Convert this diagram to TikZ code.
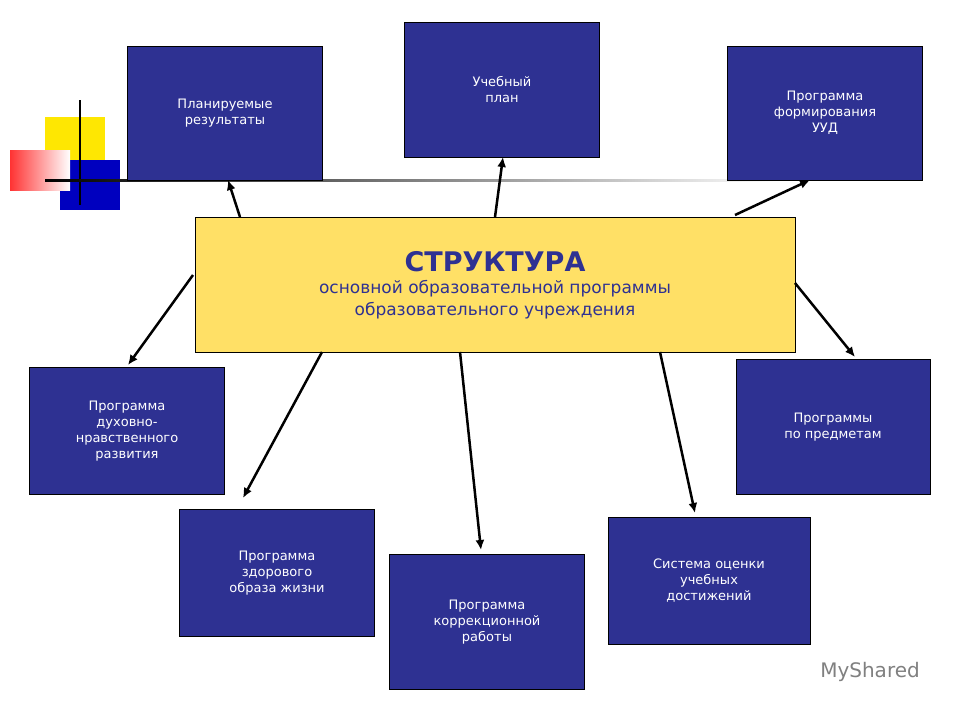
\documentclass[tikz,border=0pt]{standalone}
\usepackage{fontspec}
\setmainfont{DejaVu Sans}
\usetikzlibrary{arrows.meta}
\definecolor{bx}{HTML}{2E3192}
\definecolor{yl}{HTML}{FFE066}
\begin{document}
\begin{tikzpicture}[x=1pt,y=-1pt,
  box/.style={draw=black,fill=bx,text=white,font=\fontsize{13}{16}\selectfont,align=center,inner sep=0pt},
  arr/.style={line width=2.5pt,-{Latex[length=10pt,width=9pt]}}]
\useasboundingbox (0,0) rectangle (960,720);
\fill[white] (0,0) rectangle (960,720);
% decoration
\fill[yellow!90!orange] (45,117) rectangle (105,165);
\fill[blue!75!black] (60,160) rectangle (120,210);
\shade[left color=red!80,right color=white] (10,150) rectangle (70,190);
\draw[line width=1.2pt] (80,100) -- (80,205);
\shade[left color=black,right color=white] (45,179) rectangle (780,181);
% boxes
\path (225,113) node[box,minimum width=195pt,minimum height=134pt] (pr) {Планируемые\\результаты};
\path (502,90) node[box,minimum width=195pt,minimum height=135pt] (up) {Учебный\\план};
\path (825,113) node[box,minimum width=195pt,minimum height=134pt] (uud) {Программа\\формирования\\УУД};
\path (495,285) node[draw=black,fill=yl,text=bx,minimum width=600pt,minimum height=135pt,align=center,inner sep=0pt,font=\fontsize{17}{22}\selectfont] (c)
 {\fontsize{27}{32}\selectfont\bfseries СТРУКТУРА\\
  основной образовательной программы\\образовательного учреждения};
\path (127,431) node[box,minimum width=195pt,minimum height=127pt] (dn) {Программа\\духовно-\\нравственного\\развития};
\path (833,427) node[box,minimum width=194pt,minimum height=135pt] (pp) {Программы\\по предметам};
\path (277,573) node[box,minimum width=195pt,minimum height=127pt] (zo) {Программа\\здорового\\образа жизни};
\path (487,622) node[box,minimum width=195pt,minimum height=135pt] (kr) {Программа\\коррекционной\\работы};
\path (709,581) node[box,minimum width=202pt,minimum height=127pt] (so) {Система оценки\\учебных\\достижений};
% arrows
\coordinate (a1) at (240,217); \coordinate (b1) at (228,180); \draw[arr] (a1) -- (b1);
\coordinate (a2) at (495,217); \coordinate (b2) at (503,157); \draw[arr] (a2) -- (b2);
\coordinate (a3) at (735,215); \coordinate (b3) at (810,180); \draw[arr] (a3) -- (b3);
\coordinate (a4) at (193,275); \coordinate (b4) at (128,365); \draw[arr] (a4) -- (b4);
\coordinate (a5) at (322,352); \coordinate (b5) at (243,498); \draw[arr] (a5) -- (b5);
\coordinate (a6) at (460,352); \coordinate (b6) at (481,550); \draw[arr] (a6) -- (b6);
\coordinate (a7) at (660,352); \coordinate (b7) at (695,513); \draw[arr] (a7) -- (b7);
\coordinate (a8) at (795,283); \coordinate (b8) at (855,357); \draw[arr] (a8) -- (b8);
\node[text=gray,font=\fontsize{20}{24}\selectfont] (ms) at (870,672) {MyShared};
\end{tikzpicture}
\end{document}
